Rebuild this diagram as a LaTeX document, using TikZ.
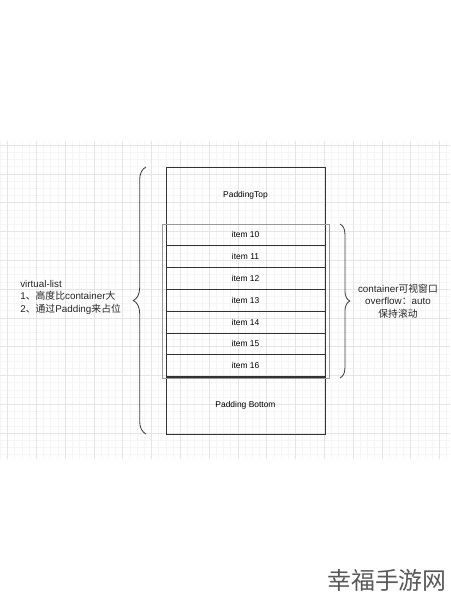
\documentclass[tikz,border=0pt]{standalone}
\usepackage{fontspec}
\setmainfont{Liberation Sans}
\newfontfamily\cjk{Noto Sans CJK SC}
\usetikzlibrary{decorations.pathreplacing}

\begin{document}
\begin{tikzpicture}[x=0.025cm,y=-0.025cm]
\tikzstyle{cell}=[rectangle,draw=black!80,line width=0.6pt,minimum width=3.975cm,inner sep=0pt,font=\fontsize{6}{7}\selectfont]
\tikzstyle{item}=[cell,minimum height=0.545cm]
\tikzstyle{pad}=[cell,minimum height=1.425cm]
\tikzstyle{note}=[inner sep=0pt,text=black!85,font=\fontsize{7}{8.9}\selectfont]
\tikzstyle{curly}=[decorate,draw=black!75,line width=0.6pt]
\useasboundingbox (0,0) rectangle (450,600);
% background grid
\begin{scope}
\clip (0,141) rectangle (450,458);
\foreach \k in {-1,...,45} \draw[black!4,line width=0.3pt] (0,{145+7.2*\k}) -- (450,{145+7.2*\k});
\foreach \k in {-2,...,63} \draw[black!4,line width=0.3pt] ({7.4+7.2*\k},0) -- ({7.4+7.2*\k},600);
\foreach \k in {0,...,11} \draw[black!10,line width=0.4pt] (0,{145+28.8*\k}) -- (450,{145+28.8*\k});
\foreach \k in {0,...,15} \draw[black!10,line width=0.4pt] ({7.4+28.8*\k},0) -- ({7.4+28.8*\k},600);
\end{scope}
% list
\node [pad] (top) at (245.5,195.5) {PaddingTop};
\node [item] (i10) at (245.5,234.9) {item 10};
\node [item] (i11) at (245.5,256.7) {item 11};
\node [item] (i12) at (245.5,278.5) {item 12};
\node [item] (i13) at (245.5,300.3) {item 13};
\node [item] (i14) at (245.5,322.1) {item 14};
\node [item] (i15) at (245.5,343.9) {item 15};
\node [item] (i16) at (245.5,365.7) {item 16};
\node [pad] (bot) at (245.5,405.5) {Padding Bottom};
\node [rectangle,draw=black!40,line width=0.4pt,minimum width=4.175cm,minimum height=3.85cm] (view) at (245.5,301) {};
% braces
\coordinate (lb1) at (146,434);
\coordinate (lb2) at (146,167);
\coordinate (rb1) at (340,224);
\coordinate (rb2) at (340,378);
\draw [curly,decoration={brace,amplitude=9pt}] (lb1) -- (lb2);
\draw [curly,decoration={brace,amplitude=7pt}] (rb1) -- (rb2);
% notes
\node [note,anchor=west,align=left] (vlist) at (20,297) {virtual-list\\1{\cjk 、高度比}container{\cjk 大}\\2{\cjk 、通过}Padding{\cjk 来占位}};
\node [note,align=center] (box) at (398,301) {container{\cjk 可视窗口}\\overflow{\cjk ：}auto\\{\cjk 保持滚动}};
\node [text=black!65,font=\cjk\fontsize{17}{17}\selectfont] (mark) at (387,580) {幸福手游网};
\end{tikzpicture}
\end{document}
